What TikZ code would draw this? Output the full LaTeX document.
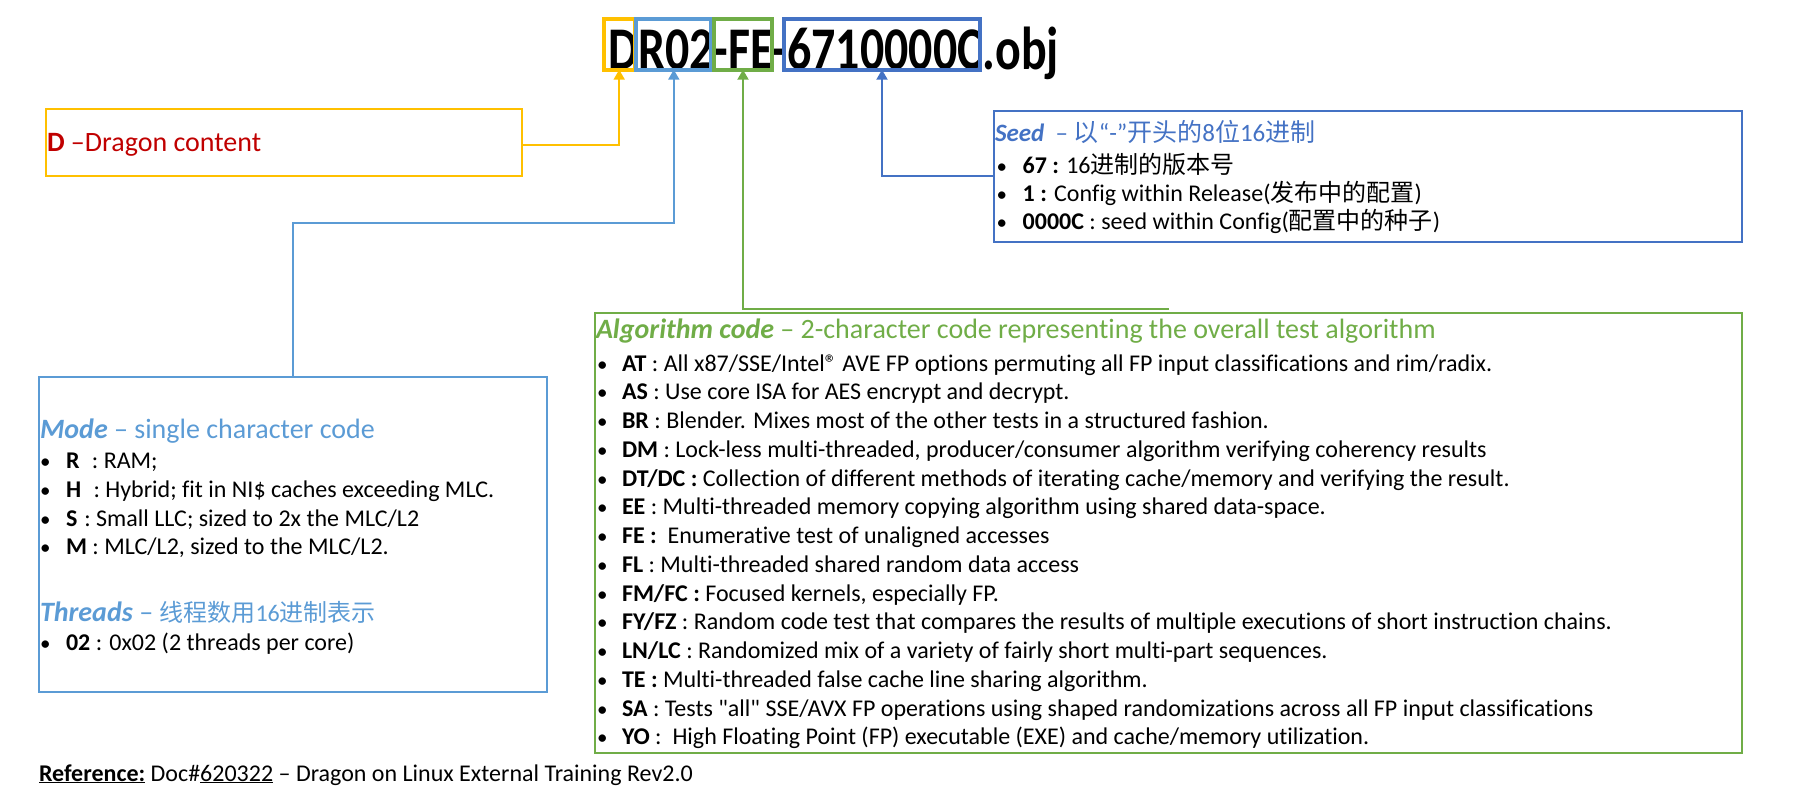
\documentclass[tikz,border=0pt]{standalone}
\usepackage{fontspec}
\setmainfont{Carlito}[Ligatures={TeXOff,NoCommon}]
\newfontfamily\cjk{Noto Sans CJK SC}
\usetikzlibrary{arrows.meta,positioning}
\definecolor{keyYellow}{HTML}{FFC000}
\definecolor{keyLBlue}{HTML}{5B9BD5}
\definecolor{keyGreen}{HTML}{70AD47}
\definecolor{keyDBlue}{HTML}{4472C4}
\definecolor{keyRed}{HTML}{C00000}
\newcommand{\zh}[1]{{\cjk #1}}
\newcommand{\bul}[1][26pt]{\makebox[#1][l]{{\fontsize{21}{21}\selectfont •}}}

\begin{document}
\begin{tikzpicture}[x=1pt,y=-1pt,
  every node/.style={inner sep=0pt, outer sep=0pt},
  frame/.style={draw=#1, line width=2pt, anchor=north west},
  keybox/.style={draw=#1, line width=4pt, anchor=north west},
  link/.style={draw=#1, line width=2pt, -{Triangle[width=11pt,length=10pt]}},
  body/.style={anchor=base west, font=\fontsize{24}{29}\selectfont},
  head/.style={anchor=base west, text=#1, font=\fontsize{28}{33}\selectfont}]
  \useasboundingbox (0,0) rectangle (1804,799);

  % file name with its four fields
  \node[anchor=base west, font=\fontsize{60.6}{70}\selectfont\bfseries] (ttl) at (608,70)
    {\scalebox{0.79}[1]{DR02-FE-6710000C.obj}};
  \node[keybox=keyYellow, minimum width=31pt, minimum height=50.4pt] (kD) at (603.7,19.3) {};
  \node[keybox=keyLBlue, minimum width=75pt, minimum height=50.4pt] (kMT) at (636.3,19.3) {};
  \node[keybox=keyGreen, minimum width=58.6pt, minimum height=50.4pt] (kAlg) at (713.7,19.3) {};
  \node[keybox=keyDBlue, minimum width=196.6pt, minimum height=50.4pt] (kSeed) at (783.7,19.3) {};

  % content
  \node[frame=keyYellow, minimum width=476pt, minimum height=66.7pt] (dbox) at (46,109) {};
  \node[body, text=keyRed, font=\fontsize{28}{32}\selectfont] (dtxt) at (47,152)
    {\textbf{D} –Dragon content};

  % seed
  \node[frame=keyDBlue, minimum width=748pt, minimum height=131.3pt] (seedbox) at (994,110.7) {};
  \node[head=keyDBlue, font=\fontsize{25}{30}\selectfont] (seedhd) at (995,141.7)
    {\textbf{\textit{Seed}}\ \ – \zh{以}“-”\zh{开头的}8\zh{位}16\zh{进制}};
  \node[body] (seedA) at (996.7,173.3) {\bul\textbf{67 :} 16\zh{进制的版本号}};
  \node[body] (seedB) at (996.7,201.7) {\bul\textbf{1 :} Config within Release(\zh{发布中的配置})};
  \node[body] (seedC) at (996.7,230) {\bul\textbf{0000C} : seed within Config(\zh{配置中的种子})};

  % mode and threads
  \node[frame=keyLBlue, minimum width=508pt, minimum height=315pt] (modebox) at (38.5,377) {};
  \node[head=keyLBlue] (modehd) at (40,438) {\textbf{\textit{Mode}} – single character code};
  \node[body] (modeR) at (40,468) {\bul\textbf{R}\hspace{7pt} : RAM;};
  \node[body] (modeH) at (40,497) {\bul\textbf{H}\hspace{7pt} : Hybrid; fit in NI\$ caches exceeding MLC.};
  \node[body] (modeS) at (40,526) {\bul\textbf{S}\hspace{7pt}: Small LLC; sized to 2x the MLC/L2};
  \node[body] (modeM) at (40,554) {\bul\textbf{M} : MLC/L2, sized to the MLC/L2.};
  \node[head=keyLBlue] (thrhd) at (40,621)
    {\textbf{\textit{Threads}} – {\fontsize{24}{29}\selectfont\zh{线程数用}16\zh{进制表示}}};
  \node[body] (thr02) at (40,650) {\bul\textbf{02} : 0x02 (2 threads per core)};

  % algorithm
  \node[frame=keyGreen, minimum width=1147pt, minimum height=439pt] (algbox) at (595,313.5) {};
  \node[head=keyGreen, font=\fontsize{28}{33}\selectfont] (alghd) at (596,339)
    {\textbf{\textit{Algorithm code}} – 2-character code representing the overall test algorithm};
  \foreach \ln [count=\i from 0] in {
    {\textbf{AT} : All x87/SSE/Intel® AVE FP options permuting all FP input classifications and rim/radix.},
    {\textbf{AS} : Use core ISA for AES encrypt and decrypt.},
    {\textbf{BR} : Blender. Mixes most of the other tests in a structured fashion.},
    {\textbf{DM} : Lock-less multi-threaded, producer/consumer algorithm verifying coherency results},
    {\textbf{DT/DC :} Collection of different methods of iterating cache/memory and verifying the result.},
    {\textbf{EE} : Multi-threaded memory copying algorithm using shared data-space.},
    {\textbf{FE :}\ \ Enumerative test of unaligned accesses},
    {\textbf{FL} : Multi-threaded shared random data access},
    {\textbf{FM/FC :} Focused kernels, especially FP.},
    {\textbf{FY/FZ} : Random code test that compares the results of multiple executions of short instruction chains.},
    {\textbf{LN/LC} : Randomized mix of a variety of fairly short multi-part sequences.},
    {\textbf{TE :} Multi-threaded false cache line sharing algorithm.},
    {\textbf{SA} : Tests "all" SSE/AVX FP operations using shaped randomizations across all FP input classifications},
    {\textbf{YO} :\ \ High Floating Point (FP) executable (EXE) and cache/memory utilization.}}
    \node[body] (alg\i) at (597,371+28.75*\i) {\bul[25pt]\ln};

  % reference
  \node[body] (ref) at (39,781)
    {\underline{\textbf{Reference:}} Doc\#\underline{620322} – Dragon on Linux External Training Rev2.0};

  % connectors
  \coordinate (mbend) at (0,223);
  \coordinate (aend) at (1169,309);
  \draw[link=keyYellow] ([yshift=-3pt]dbox.east) -| (kD.south);
  \draw[link=keyLBlue] (modebox.north) -- (modebox.north |- mbend) -| (kMT.south);
  \draw[link=keyGreen] (aend) -| (kAlg.south);
  \draw[link=keyDBlue] (seedbox.west) -| (kSeed.south);
\end{tikzpicture}
\end{document}
